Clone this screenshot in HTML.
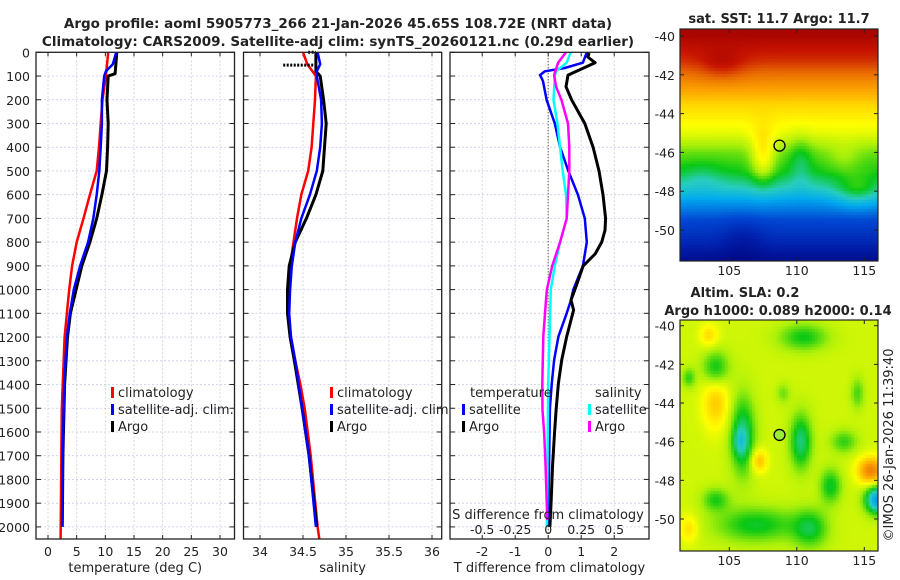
<!DOCTYPE html>
<html><head><meta charset="utf-8"><title>Argo profile</title>
<style>
html,body{margin:0;padding:0;background:#fff;}
#wrap{position:relative;width:900px;height:580px;overflow:hidden;font-family:"DejaVu Sans","Liberation Sans",sans-serif;}
canvas{position:absolute;}
svg{position:absolute;left:0;top:0;}
text{font-family:"DejaVu Sans","Liberation Sans",sans-serif;fill:#222;}
</style></head>
<body>
<div id="wrap">
<canvas id="sst" width="198" height="232" style="left:680px;top:29px"></canvas>
<canvas id="sla" width="198" height="231" style="left:680px;top:320px"></canvas>
<svg id="fig" width="900" height="580" xmlns="http://www.w3.org/2000/svg">
<text x="338" y="28" text-anchor="middle" font-size="13.5" font-weight="bold">Argo profile: aoml 5905773_266 21-Jan-2026 45.65S 108.72E (NRT data)</text>
<text x="338" y="46" text-anchor="middle" font-size="13.5" font-weight="bold">Climatology: CARS2009. Satellite-adj clim: synTS_20260121.nc (0.29d earlier)</text>
<text x="779" y="23" text-anchor="middle" font-size="13" font-weight="bold">sat. SST: 11.7 Argo: 11.7</text>
<text x="745" y="297" text-anchor="middle" font-size="13" font-weight="bold">Altim. SLA: 0.2</text>
<text x="778" y="315" text-anchor="middle" font-size="13" font-weight="bold">Argo h1000: 0.089 h2000: 0.14</text>
<text transform="translate(893,445) rotate(-90)" text-anchor="middle" font-size="13">©IMOS 26-Jan-2026 11:39:40</text>
<text x="88" y="512" font-size="11">Argo SIO</text>
<text x="88" y="525" font-size="11">PI: DEAN ROEMMICH</text>
<g id="plots"></g>
</svg>
</div>
<script>
// ---- data ----
const depthTicks = [0,100,200,300,400,500,600,700,800,900,1000,1100,1200,1300,1400,1500,1600,1700,1800,1900,2000];
const tempTicks = [0,5,10,15,20,25,30];
const salTicks = [34,34.5,35,35.5,36];
const salTickLabels = ["34","34.5","35","35.5","36"];
const tdiffTicks = [-2,-1,0,1,2];
const sdiffTicks = [-0.5,-0.25,0,0.25,0.5];
const sdiffTickLabels = ["-0.5","-0.25","0","0.25","0.5"];

const tempClimD = [0,100,200,300,400,500,600,700,800,900,1000,1100,1200,1500,2050];
const tempClim  = [10.5,10.1,9.5,9.2,8.9,8.5,7.3,6.2,5.0,4.2,3.7,3.3,2.9,2.4,2.2];
const tempSatD = [0,50,80,100,200,300,400,500,600,700,800,900,1000,1100,1200,1400,1700,2000];
const tempSat  = [11.9,11.3,10.1,9.8,9.4,9.4,9.2,8.95,8.5,7.9,7.0,5.6,4.5,3.8,3.3,2.8,2.6,2.5];
const tempArgoD = [0,90,100,200,300,400,500,600,700,800,900,1000,1100,1200,1400,1700,2000];
const tempArgo  = [12.0,11.7,10.5,10.3,10.5,10.4,10.2,9.4,8.5,7.3,5.9,4.9,3.9,3.4,2.9,2.6,2.5];

const salClimD = [0,50,100,200,300,400,500,600,700,800,900,1000,1100,1200,1300,1400,1500,1700,2000,2050];
const salClim  = [34.50,34.55,34.65,34.64,34.62,34.60,34.56,34.48,34.43,34.39,34.35,34.33,34.33,34.36,34.41,34.47,34.52,34.59,34.67,34.69];
const salSatD = [0,50,80,100,200,300,400,500,600,700,800,900,1000,1100,1200,1300,1500,1700,2000];
const salSat  = [34.67,34.70,34.66,34.66,34.71,34.72,34.70,34.66,34.58,34.48,34.41,34.37,34.35,34.34,34.36,34.41,34.49,34.57,34.65];
const salArgoD = [0,80,100,150,200,300,400,500,600,700,800,900,1000,1100,1200,1300,1500,1700,2000];
const salArgo  = [34.65,34.65,34.70,34.72,34.74,34.77,34.75,34.73,34.65,34.54,34.41,34.34,34.32,34.32,34.35,34.40,34.49,34.57,34.66];
const mldDepths = [54,0];
const mldSalStart = [34.27,34.56];
const mldSalEnd = [34.65,34.65];

const tDiffArgoD = [3,20,44,96,145,200,300,400,500,600,700,750,800,850,900,1000,1044,1086,1198,1297,1395,1508,1606,1746,1887,2000];
const tDiffArgo  = [1.24,1.2,1.42,0.6,0.54,0.71,1.11,1.36,1.54,1.66,1.74,1.72,1.62,1.42,1.06,0.81,0.69,0.77,0.56,0.41,0.31,0.24,0.19,0.13,0.09,0.05];
const tDiffSatD = [0,44,66,80,96,120,200,300,400,500,600,700,800,900,1000,1044,1100,1198,1297,1395,1500,1700,2000];
const tDiffSat  = [1.17,1.05,0.5,-0.1,-0.25,-0.16,-0.05,0.2,0.36,0.61,0.9,1.11,1.17,1.05,0.76,0.69,0.56,0.31,0.18,0.11,0.05,0.03,0.0];
const sDiffSatD = [0,44,80,100,200,300,400,500,600,700,800,900,1000,1400,2000];
const sDiffSat  = [0.17,0.14,0.06,0.05,0.04,0.07,0.09,0.11,0.135,0.14,0.09,0.05,0.02,0.0,-0.01];
const sDiffArgoD = [0,44,96,145,200,300,400,500,600,700,800,900,1000,1044,1198,1395,1508,1606,1746,1971];
const sDiffArgo  = [0.135,0.075,0.045,0.06,0.10,0.15,0.16,0.16,0.15,0.14,0.09,0.03,-0.01,-0.017,-0.037,-0.045,-0.043,-0.03,-0.02,-0.007];

// ---- axes ----
const TOP=52.3, BOT=539;
const yD = d => TOP + d*0.2373;
const xT = v => 48 + v*5.733;
const xS = v => 260 + (v-34)*86;
const xTd = v => 548.2 + v*33;
const xSd = v => 548.2 + v*132;
const panels = [{l:36,r:234.5,name:'temperature-panel'},{l:243.5,r:441.7,name:'salinity-panel'},{l:450,r:649,name:'difference-panel'}];

const NS='http://www.w3.org/2000/svg';
const root=document.getElementById('plots');
function el(tag,attrs,parent){const e=document.createElementNS(NS,tag);for(const k in attrs)e.setAttribute(k,attrs[k]);(parent||root).appendChild(e);return e;}
function txt(x,y,s,size,anchor,parent){const t=el('text',{x:x,y:y,'font-size':size,'text-anchor':anchor||'start'},parent);t.textContent=s;return t;}

function panel(p,xs,xfn,xlabels,title,clipId){
  const g=el('g',{});
  
  
  el('rect',{x:p.l,y:TOP,width:p.r-p.l,height:BOT-TOP,fill:'#fff'},g);
  depthTicks.forEach(d=>{el('line',{x1:p.l,x2:p.r,y1:yD(d),y2:yD(d),stroke:'#c8cce8','stroke-width':0.8,'stroke-dasharray':'2,2'},g);});
  xs.forEach((v,i)=>{const x=xfn(v);
    el('line',{x1:x,x2:x,y1:TOP,y2:BOT,stroke:'#d8c8d8','stroke-width':0.8,'stroke-dasharray':'2,2'},g);
    el('line',{x1:x,x2:x,y1:BOT,y2:BOT-4,stroke:'#222','stroke-width':1},g);
    el('line',{x1:x,x2:x,y1:TOP,y2:TOP+4,stroke:'#222','stroke-width':1},g);
    const t=txt(x,556,xlabels[i],12.5,'middle',g);
    
    
  });
  depthTicks.forEach(d=>{
    el('line',{x1:p.l,x2:p.l+5,y1:yD(d),y2:yD(d),stroke:'#222','stroke-width':1},g);
    el('line',{x1:p.r,x2:p.r-5,y1:yD(d),y2:yD(d),stroke:'#222','stroke-width':1},g);
  });
  const tt=txt((p.l+p.r)/2,572,title,13,'middle',g);
  
  
  const cp=el('clipPath',{id:clipId},g);
  el('rect',{x:p.l,y:TOP,width:p.r-p.l,height:BOT-TOP},cp);
  return g;
}
function line(g,ds,vs,xfn,color,w,name,clip){
  const pts=ds.map((d,i)=>xfn(vs[i]).toFixed(1)+','+yD(d).toFixed(1)).join(' ');
  const pl=el('polyline',{points:pts,fill:'none',stroke:color,'stroke-width':w,'stroke-linejoin':'round','clip-path':'url(#'+clip+')'},g);
  
  
}
function frame(p,g){el('rect',{x:p.l,y:TOP,width:p.r-p.l,height:BOT-TOP,fill:'none',stroke:'#222','stroke-width':1.3},g);}
function legend(g,x,y,items){
  items.forEach((it,i)=>{
    const m=el('rect',{x:x,y:y+i*17-10,width:3,height:11,fill:it[1]},g);
    
    
    const t=txt(x+7,y+i*17,it[0],13,'start',g);
    
    
  });
}

depthTicks.forEach(d=>{const t=txt(30,yD(d)+5,String(d),12.5,'end');
  
  });

const g1=panel(panels[0],tempTicks,xT,tempTicks.map(String),'temperature (deg C)','c1');
line(g1,tempClimD,tempClim,xT,'#ff0000',2.5,'temp-climatology-line','c1');
line(g1,tempArgoD,tempArgo,xT,'#000',3,'temp-argo-line','c1');
line(g1,tempSatD,tempSat,xT,'#0000ff',2.5,'temp-satellite-line','c1');
legend(g1,111,397,[['climatology','#ff0000'],['satellite-adj. clim.','#0000ff'],['Argo','#000']]);
frame(panels[0],g1);

const g2=panel(panels[1],salTicks,xS,salTickLabels,'salinity','c2');
line(g2,salClimD,salClim,xS,'#ff0000',2.5,'sal-climatology-line','c2');
line(g2,salArgoD,salArgo,xS,'#000',3,'sal-argo-line','c2');
line(g2,salSatD,salSat,xS,'#0000ff',2.5,'sal-satellite-line','c2');
mldDepths.forEach((d,i)=>{const l=el('line',{x1:xS(mldSalStart[i]),x2:xS(mldSalEnd[i]),y1:yD(d),y2:yD(d),stroke:'#000','stroke-width':3,'stroke-dasharray':'2,1.5'},g2);
  
  });
legend(g2,330,397,[['climatology','#ff0000'],['satellite-adj. clim.','#0000ff'],['Argo','#000']]);
frame(panels[1],g2);

const g3=panel(panels[2],tdiffTicks,xTd,tdiffTicks.map(String),'T difference from climatology','c3');
el('line',{x1:xTd(0),x2:xTd(0),y1:TOP,y2:BOT,stroke:'#445533','stroke-width':1.2,'stroke-dasharray':'1,2'},g3);
line(g3,tDiffSatD,tDiffSat,xTd,'#0000ff',2.5,'tdiff-satellite-line','c3');
line(g3,tDiffArgoD,tDiffArgo,xTd,'#000',3,'tdiff-argo-line','c3');
line(g3,sDiffSatD,sDiffSat,xSd,'#00ffff',2.5,'sdiff-satellite-line','c3');
line(g3,sDiffArgoD,sDiffArgo,xSd,'#ff00ff',2.5,'sdiff-argo-line','c3');
const st=txt(548,519,'S difference from climatology',13,'middle',g3);


sdiffTicks.forEach((v,i)=>{const t=txt(xSd(v),534,sdiffTickLabels[i],12.5,'middle',g3);
  
  });
const lt=txt(470,397,'temperature',13,'start',g3);


const ls=txt(595,397,'salinity',13,'start',g3);


legend(g3,462,414,[['satellite','#0000ff'],['Argo','#000']]);
legend(g3,588,414,[['satellite','#00ffff'],['Argo','#ff00ff']]);
frame(panels[2],g3);

// ---- maps ----
const cmapPos=[0,0.12,0.22,0.33,0.42,0.5,0.58,0.65,0.75,0.85,0.93,1];
const cmapCol=[[0,0,120],[0,30,170],[0,70,210],[0,170,240],[40,205,190],[10,200,20],[170,240,10],[255,255,0],[255,170,0],[230,100,0],[200,20,0],[160,0,0]];
function cmap(v){v=Math.max(0,Math.min(1,v));let i=1;while(i<cmapPos.length-1&&v>cmapPos[i])i++;
  const t=(v-cmapPos[i-1])/(cmapPos[i]-cmapPos[i-1]);const a=cmapCol[i-1],b=cmapCol[i];
  return 'rgb('+Math.round(a[0]+t*(b[0]-a[0]))+','+Math.round(a[1]+t*(b[1]-a[1]))+','+Math.round(a[2]+t*(b[2]-a[2]))+')';}
function interp(xs,ys,x){if(x<=xs[0])return ys[0];for(let i=1;i<xs.length;i++){if(x<=xs[i]){const t=(x-xs[i-1])/(xs[i]-xs[i-1]);return ys[i-1]+t*(ys[i]-ys[i-1]);}}return ys[ys.length-1];}
const sstLat=[-52,-51.5,-50.7,-49.5,-48.5,-47.8,-47,-46,-45,-43.5,-42.3,-41.3,-40,-39];
const sstVal=[0.05,0.06,0.14,0.22,0.32,0.42,0.5,0.55,0.63,0.7,0.8,0.9,0.98,0.99];
const sstBlobs=[[107.5,-46.3,0.12,0.9,1.4],[110.3,-46.5,-0.06,0.8,1.3],[104.5,-41.5,0.06,1.6,0.8],[103,-47.3,-0.04,1.5,0.8],[113.5,-46.3,0.04,1.2,0.8],[114.5,-48,0.1,1.6,0.8],[106,-50.5,-0.05,1.5,1]];
const slaBlobs=[[104,-42.2,-0.12,1.0,0.9],[106,-45.7,-0.16,0.9,2.0],[105.8,-46,-0.08,0.5,0.7],[110.3,-46,-0.16,0.8,1.4],[104,-44,0.1,1.0,1.4],[107.2,-47,0.12,0.6,0.6],[115.5,-47.5,0.2,1.0,0.7],[116,-49,-0.3,0.9,0.7],[107,-50.3,-0.12,3.0,0.9],[111,-50.5,-0.12,1.3,1.0],[112.5,-48.3,-0.12,0.8,0.9],[113.5,-46,-0.09,1.0,0.6],[110.5,-40.6,-0.11,1.8,0.7],[103.5,-40.5,0.08,0.7,0.6],[102,-50.5,0.08,0.7,0.7],[104,-49,-0.1,1.0,0.6],[102,-42.7,-0.09,0.5,0.5],[109,-43.5,-0.06,0.5,0.5],[114.5,-43.5,-0.08,0.5,0.8]];
function drawMap(id,latAt,base,blobs){
  const c=document.getElementById(id),ctx=c.getContext('2d');const cs=3;
  for(let px=0;px<c.width;px+=cs)for(let py=0;py<c.height;py+=cs){
    const lon=105+(680+px+1.5-729.3)/13.5, lat=latAt(py+1.5);
    let v=base(lat);
    blobs.forEach(b=>{const dx=(lon-b[0])/b[3],dy=(lat-b[1])/b[4];v+=b[2]*Math.exp(-(dx*dx+dy*dy));});
    ctx.fillStyle=cmap(v);ctx.fillRect(px,py,cs,cs);
  }
}
drawMap('sst',py=>-40-(29+py-36)/19.4,lat=>interp(sstLat,sstVal,lat),sstBlobs);
drawMap('sla',py=>-40-(320+py-325.7)/19.33,lat=>0.61,slaBlobs);

const svg=document.getElementById('fig');
function mapAxes(top,bot,y40,scale,name){
  const g=el('g',{},svg);
  
  
  el('rect',{x:680,y:top,width:198,height:bot-top,fill:'none',stroke:'#222','stroke-width':1.2},g);
  [-40,-42,-44,-46,-48,-50].forEach(l=>{const y=y40+(-40-l)*scale;
    el('line',{x1:680,x2:684,y1:y,y2:y,stroke:'#222'},g);el('line',{x1:878,x2:874,y1:y,y2:y,stroke:'#222'},g);
    const t=txt(675,y+5,String(l),12.5,'end',g);
    
    });
  [105,110,115].forEach(lo=>{const x=729.3+(lo-105)*13.5;
    el('line',{x1:x,x2:x,y1:bot,y2:bot-4,stroke:'#222'},g);el('line',{x1:x,x2:x,y1:top,y2:top+4,stroke:'#222'},g);
    const t=txt(x,bot+14,String(lo),12.5,'middle',g);
    
    });
  const cx=729.3+(108.72-105)*13.5, cy=y40+(45.65-40)*scale;
  const c=el('circle',{cx:cx,cy:cy,r:5.5,fill:name==='sla-axes'?'#99ee33':'none',stroke:'#000','stroke-width':1.3},g);
  
  
}
mapAxes(29,261,36,19.4,'sst-axes');
mapAxes(320,551,325.7,19.33,'sla-axes');
</script>
</body></html>
